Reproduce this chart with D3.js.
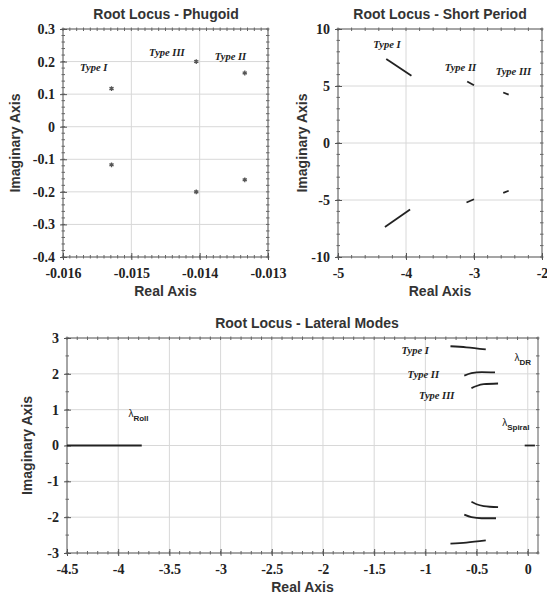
<!DOCTYPE html>
<html>
<head>
<meta charset="utf-8">
<script src="https://cdn.jsdelivr.net/npm/d3@7"></script>
<style>
  body { margin: 0; background: #fff; }
  .title { font-family: "Liberation Sans", Arial, sans-serif; font-weight: bold; font-size: 14px; fill: #333; }
  .axtitle { font-family: "Liberation Sans", Arial, sans-serif; font-weight: bold; font-size: 14px; fill: #333; }
  .typelab { font-family: "Liberation Serif", serif; font-style: italic; font-weight: bold; font-size: 10.5px; fill: #222; }
  .lam { font-family: "Liberation Sans", sans-serif; font-size: 10px; fill: #222; }
  svg g.ax text { font-family: "Liberation Serif", "DejaVu Serif", serif !important; font-weight: bold; font-size: 14px; fill: #222; }
</style>
</head>
<body>
<div id="chart"></div>
<script>
/* phugoid roots: [real, imag] */
var phugoidTypeI = [[-0.01529, 0.117], [-0.01529, -0.117]]
var phugoidTypeII = [[-0.01334, 0.165], [-0.01334, -0.163]]
var phugoidTypeIII = [[-0.01405, 0.200], [-0.01405, -0.200]]
var phugoidLabels = [["Type I", -0.01555, 0.17], ["Type III", -0.01448, 0.218], ["Type II", -0.01355, 0.205]]

/* short period loci */
var spTypeIUp = [[-4.29, 7.36], [-3.92, 5.89]]
var spTypeILow = [[-4.31, -7.36], [-3.94, -5.84]]
var spTypeIIUp = [[-3.10, 5.40], [-3.00, 5.07]]
var spTypeIILow = [[-3.11, -5.22], [-3.00, -4.93]]
var spTypeIIIUp = [[-2.57, 4.43], [-2.49, 4.25]]
var spTypeIIILow = [[-2.57, -4.37], [-2.49, -4.19]]
var spLabels = [["Type I", -4.28, 8.3], ["Type II", -3.20, 6.35], ["Type III", -2.42, 5.95]]

/* lateral loci */
var latTypeIUp = [[-0.755, 2.77], [-0.6, 2.74], [-0.41, 2.68]]
var latTypeILow = [[-0.755, -2.74], [-0.6, -2.71], [-0.41, -2.65]]
var latTypeIIUp = [[-0.62, 1.95], [-0.55, 2.02], [-0.45, 2.05], [-0.32, 2.04]]
var latTypeIILow = [[-0.62, -1.93], [-0.55, -2.00], [-0.45, -2.03], [-0.31, -2.03]]
var latTypeIIIUp = [[-0.55, 1.60], [-0.5, 1.66], [-0.43, 1.71], [-0.29, 1.73]]
var latTypeIIILow = [[-0.55, -1.57], [-0.5, -1.64], [-0.43, -1.69], [-0.29, -1.72]]
var latRoll = [[-4.5, 0], [-3.77, 0]]
var latSpiral = [[-0.03, 0], [0.07, 0]]
var latLabels = [["Type I", -1.1, 2.55], ["Type II", -1.02, 1.88], ["Type III", -0.89, 1.3]]
var latLambdas = [["\u03bb", "Roll", -3.9, 0.8], ["\u03bb", "DR", -0.13, 2.35], ["\u03bb", "Spiral", -0.25, 0.55]]

var phugoidXTicks = [-0.016, -0.015, -0.014, -0.013]
var phugoidYTicks = [0.3, 0.2, 0.1, 0, -0.1, -0.2, -0.3, -0.4]
var spXTicks = [-5, -4, -3, -2]
var spYTicks = [10, 5, 0, -5, -10]
var latXTicks = [-4.5, -4, -3.5, -3, -2.5, -2, -1.5, -1, -0.5, 0]
var latYTicks = [3, 2, 1, 0, -1, -2, -3]

var svg = d3.select("#chart").append("svg")
  .attr("width", 547)
  .attr("height", 600)

function fmt(v) {
  if (v == 0) return "0"
  return String(v)
}

function drawPanel(p) {
  var x = d3.scaleLinear().domain(p.xDomain).range([p.left, p.right])
  var y = d3.scaleLinear().domain(p.yDomain).range([p.bottom, p.top])
  var g = svg.append("g")

  // grid
  g.selectAll(".gx").data(p.xTicks).enter().append("line")
    .attr("x1", d => x(d)).attr("x2", d => x(d))
    .attr("y1", p.top).attr("y2", p.bottom)
    .attr("stroke", "#d8d8d8").attr("stroke-width", 1)
  g.selectAll(".gy").data(p.yTicks).enter().append("line")
    .attr("y1", d => y(d)).attr("y2", d => y(d))
    .attr("x1", p.left).attr("x2", p.right)
    .attr("stroke", "#d8d8d8").attr("stroke-width", 1)

  // frame
  g.append("rect")
    .attr("x", p.left).attr("y", p.top)
    .attr("width", p.right - p.left).attr("height", p.bottom - p.top)
    .attr("fill", "none").attr("stroke", "#777").attr("stroke-width", 1.2)

  // minor ticks on all sides
  var xMinor = x.ticks(p.xMinor), yMinor = y.ticks(p.yMinor)
  g.selectAll(".mxb").data(xMinor).enter().append("line")
    .attr("x1", d => x(d)).attr("x2", d => x(d))
    .attr("y1", p.bottom - 2).attr("y2", p.bottom + 1.5)
    .attr("stroke", "#666")
  g.selectAll(".mxt").data(xMinor).enter().append("line")
    .attr("x1", d => x(d)).attr("x2", d => x(d))
    .attr("y1", p.top - 1.5).attr("y2", p.top + 2)
    .attr("stroke", "#666")
  g.selectAll(".myl").data(yMinor).enter().append("line")
    .attr("y1", d => y(d)).attr("y2", d => y(d))
    .attr("x1", p.left - 1.5).attr("x2", p.left + 2)
    .attr("stroke", "#666")
  g.selectAll(".myr").data(yMinor).enter().append("line")
    .attr("y1", d => y(d)).attr("y2", d => y(d))
    .attr("x1", p.right - 2).attr("x2", p.right + 1.5)
    .attr("stroke", "#666")

  // axes (labels)
  var xAxis = d3.axisBottom(x).tickValues(p.xTicks).tickSize(4).tickPadding(7).tickFormat(fmt)
  var ax = g.append("g").attr("class", "ax").attr("transform", "translate(0," + p.bottom + ")").call(xAxis)
  ax.select(".domain").remove()
  ax.selectAll("line").attr("stroke", "#555").attr("y1", -4).attr("y2", 3)
  var yAxis = d3.axisLeft(y).tickValues(p.yTicks).tickSize(4).tickPadding(4).tickFormat(fmt)
  var ay = g.append("g").attr("class", "ax").attr("transform", "translate(" + p.left + ",0)").call(yAxis)
  ay.select(".domain").remove()
  ay.selectAll("line").attr("stroke", "#555").attr("x1", -3).attr("x2", 4)
  g.selectAll(".ax").attr("font-family", null).attr("font-size", null)
  g.selectAll(".ax text")
    .style("font-family", "'Liberation Serif', serif")
    .style("font-weight", "bold")
    .style("font-size", "14px")

  // titles
  g.append("text").attr("class", "title")
    .attr("x", p.titleX).attr("y", p.top - 10).attr("text-anchor", "middle").text(p.title)
  g.append("text").attr("class", "axtitle")
    .attr("x", (p.left + p.right) / 2).attr("y", p.bottom + 39).attr("text-anchor", "middle").text("Real Axis")
  g.append("text").attr("class", "axtitle")
    .attr("transform", "translate(" + p.yTitleX + "," + ((p.top + p.bottom) / 2) + ") rotate(-90)")
    .attr("text-anchor", "middle").text("Imaginary Axis")

  return { g: g, x: x, y: y }
}

function drawLines(pan, list) {
  var line = d3.line().x(d => pan.x(d[0])).y(d => pan.y(d[1])).curve(d3.curveMonotoneX)
  pan.g.selectAll(null).data(list).enter().append("path")
    .attr("d", line)
    .attr("fill", "none").attr("stroke", "#222").attr("stroke-width", 1.8)
}

function drawTypeLabels(pan, labels) {
  pan.g.selectAll(null).data(labels).enter().append("text")
    .attr("class", "typelab")
    .attr("x", d => pan.x(d[1])).attr("y", d => pan.y(d[2]))
    .attr("text-anchor", "middle")
    .text(d => d[0])
}

/* phugoid */
var ph = drawPanel({
  left: 63, right: 268, top: 29, bottom: 257,
  xDomain: [-0.016, -0.013], yDomain: [-0.4, 0.3],
  xTicks: phugoidXTicks, yTicks: phugoidYTicks,
  xMinor: 30, yMinor: 35,
  title: "Root Locus - Phugoid", titleX: 166, yTitleX: 20
})
var star = d3.symbol().type(d3.symbolAsterisk).size(16)
ph.g.selectAll(null).data(phugoidTypeI.concat(phugoidTypeII, phugoidTypeIII)).enter().append("path")
  .attr("d", star)
  .attr("transform", d => "translate(" + ph.x(d[0]) + "," + ph.y(d[1]) + ")")
  .attr("fill", "none").attr("stroke", "#555").attr("stroke-width", 1.3)
drawTypeLabels(ph, phugoidLabels)

/* short period */
var sp = drawPanel({
  left: 338, right: 542, top: 29, bottom: 257,
  xDomain: [-5, -2], yDomain: [-10, 10],
  xTicks: spXTicks, yTicks: spYTicks,
  xMinor: 15, yMinor: 20,
  title: "Root Locus - Short Period", titleX: 440, yTitleX: 307
})
drawLines(sp, [spTypeIUp, spTypeILow, spTypeIIUp, spTypeIILow, spTypeIIIUp, spTypeIIILow])
drawTypeLabels(sp, spLabels)

/* lateral */
var lat = drawPanel({
  left: 67, right: 538, top: 338, bottom: 553,
  xDomain: [-4.5, 0.1], yDomain: [-3, 3],
  xTicks: latXTicks, yTicks: latYTicks,
  xMinor: 46, yMinor: 12,
  title: "Root Locus - Lateral Modes", titleX: 307, yTitleX: 32
})
drawLines(lat, [latTypeIUp, latTypeILow, latTypeIIUp, latTypeIILow, latTypeIIIUp, latTypeIIILow, latRoll, latSpiral])
drawTypeLabels(lat, latLabels)
var lam = lat.g.selectAll(null).data(latLambdas).enter().append("text")
  .attr("class", "lam")
  .attr("x", d => lat.x(d[2])).attr("y", d => lat.y(d[3]))
lam.append("tspan").text(d => d[0])
lam.append("tspan").attr("dy", 4).attr("font-size", "8px").attr("font-weight", "bold").text(d => d[1])
</script>
</body>
</html>
